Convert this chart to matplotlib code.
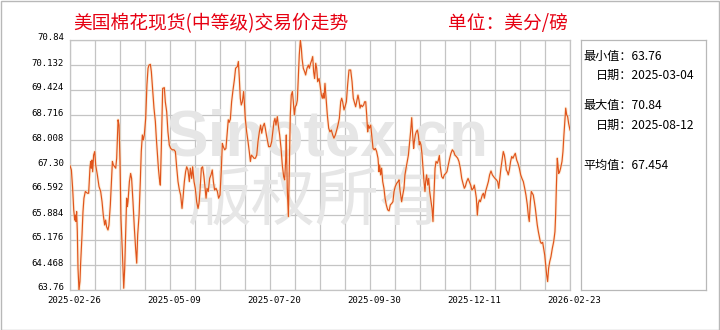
import numpy as np
import matplotlib
matplotlib.use('Agg')
import matplotlib.pyplot as plt
from matplotlib.patches import Rectangle
from matplotlib.transforms import ScaledTranslation

title = '美国棉花现货(中等级)交易价走势'
unit = '单位：美分/磅'

# days counted from 2025-02-26, price in US cents / lb
days = [
    0.0, 1.0, 1.9, 2.7, 3.4, 3.9, 4.3, 4.8, 5.3, 5.8,
    6.5, 7.2, 7.7, 8.7, 9.4, 10.1, 11.1, 12.6, 13.5, 14.5,
    15.0, 15.4, 15.9, 16.4, 17.1, 17.9, 18.6, 19.8, 21.0, 22.2,
    23.2, 24.1, 25.1, 25.8, 26.5, 27.5, 28.2, 29.2, 29.9, 30.7,
    31.4, 32.3, 33.1, 33.8, 34.8, 35.5, 36.2, 36.9, 37.9, 38.9,
    39.6, 40.3, 41.0, 41.5, 42.0, 43.0, 43.9, 44.6, 45.6, 46.6,
    47.5, 48.3, 49.0, 50.0, 50.9, 51.6, 52.4, 53.1, 53.8, 54.8,
    55.7, 56.5, 57.2, 58.2, 58.9, 59.8, 60.8, 61.8, 62.5, 63.2,
    64.0, 64.7, 65.4, 66.1, 67.1, 68.3, 69.0, 70.0, 70.9, 71.9,
    72.9, 74.1, 75.3, 76.3, 77.2, 78.2, 79.2, 80.1, 81.1, 81.8,
    82.8, 83.7, 84.5, 85.4, 86.4, 87.1, 88.1, 88.8, 89.8, 90.7,
    91.7, 92.7, 93.4, 94.1, 95.1, 96.0, 97.0, 98.0, 98.5, 99.2,
    100.1, 101.1, 102.1, 103.0, 103.8, 104.7, 105.7, 106.7, 107.6, 108.6,
    109.6, 110.3, 111.0, 112.0, 112.9, 113.9, 114.6, 115.3, 116.1, 117.0,
    118.0, 119.0, 119.9, 121.2, 121.9, 122.6, 123.3, 124.0, 124.8, 125.7,
    126.2, 126.9, 127.9, 128.9, 129.8, 130.6, 131.3, 132.3, 133.2, 134.2,
    135.2, 136.1, 137.1, 138.0, 138.8, 139.7, 140.7, 141.4, 142.2, 143.1,
    143.8, 145.0, 146.0, 147.0, 147.7, 148.4, 149.1, 150.1, 150.8, 151.8,
    152.8, 153.7, 154.7, 155.4, 156.1, 156.6, 157.3, 158.1, 158.8, 159.5,
    160.2, 161.0, 161.7, 162.4, 163.1, 163.9, 164.6, 165.3, 166.0, 166.8,
    167.5, 168.0, 168.9, 169.9, 170.6, 171.6, 172.6, 173.3, 174.2, 175.0,
    175.7, 176.4, 177.1, 177.9, 178.6, 179.3, 180.3, 181.0, 182.0, 182.7,
    183.4, 183.9, 184.6, 185.6, 186.3, 187.3, 188.2, 189.2, 190.2, 191.1,
    192.1, 193.1, 194.0, 195.0, 196.0, 196.7, 197.4, 198.4, 199.1, 200.1,
    201.0, 202.0, 203.2, 204.2, 205.1, 206.1, 206.8, 207.5, 208.5, 209.2,
    210.0, 210.7, 211.6, 212.6, 213.3, 214.1, 214.8, 215.5, 216.0, 216.7,
    217.7, 218.4, 219.4, 220.3, 221.1, 222.0, 223.0, 223.7, 224.2, 224.9,
    225.6, 226.4, 227.3, 228.1, 229.0, 230.0, 231.0, 231.9, 232.9, 233.8,
    234.6, 235.5, 236.5, 237.5, 238.2, 238.9, 240.1, 240.9, 241.8, 242.5,
    243.3, 244.2, 245.0, 245.7, 246.6, 247.4, 248.1, 248.8, 249.3, 250.0,
    250.7, 251.5, 252.2, 252.9, 253.4, 254.1, 254.8, 255.6, 256.3, 257.0,
    257.5, 258.2, 259.0, 259.7, 260.4, 261.4, 262.1, 262.8, 263.5, 264.3,
    265.0, 266.0, 266.7, 267.4, 268.1, 269.1, 270.1, 271.0, 272.0, 272.9,
    273.9, 274.9, 275.8, 276.8, 277.8, 278.7, 279.7, 280.7, 281.6, 282.6,
    283.6, 284.5, 285.5, 286.2, 287.2, 288.2, 289.1, 290.1, 291.0, 292.0,
    292.7, 293.5, 294.2, 294.9, 295.6, 296.4, 297.1, 297.8, 298.5, 299.3,
    300.0, 300.9, 301.9, 302.9, 303.8, 304.8, 305.8, 306.7, 307.7, 308.7,
    309.6, 310.4, 311.1, 312.0, 313.0, 313.7, 314.5, 315.2, 315.9, 316.6,
    317.3, 318.1, 319.0, 319.8, 320.7, 321.7, 322.4, 323.4, 324.3, 325.3,
    326.3, 327.2, 328.2, 329.2, 330.1, 331.1, 331.8, 332.5, 333.3, 334.0,
    334.7, 335.4, 336.2, 336.9, 337.6, 338.3, 339.1, 339.8, 340.5, 341.2,
    342.2, 342.9, 343.7, 344.4, 345.1, 345.8, 346.5, 347.3, 348.2, 349.2,
    350.2, 351.1, 351.6, 352.1, 352.8, 353.3, 353.8, 354.5, 355.2, 356.2,
    356.9, 357.6, 358.4, 358.9, 359.6, 360.3, 361.0, 362.0,
]
prices = [
    67.28, 67.16, 66.64, 66.03, 65.74, 65.88, 65.70, 65.98, 65.41, 64.37,
    63.76, 64.00, 64.52, 65.32, 65.98, 66.36, 66.55, 66.50, 66.50, 67.25,
    67.40, 67.21, 67.44, 67.11, 67.58, 67.68, 67.30, 67.02, 66.69, 66.55,
    66.26, 65.88, 65.60, 65.74, 65.55, 65.46, 65.60, 66.17, 66.73, 67.40,
    67.30, 67.25, 67.21, 67.49, 68.58, 68.43, 67.40, 65.79, 64.85, 63.81,
    64.37, 65.32, 66.36, 66.12, 66.26, 66.83, 67.06, 66.92, 66.26, 65.51,
    64.94, 64.52, 65.32, 65.88, 66.83, 67.68, 68.15, 68.01, 68.15, 68.62,
    69.57, 70.04, 70.13, 70.15, 69.94, 69.47, 68.91, 68.53, 68.06, 67.68,
    67.21, 66.92, 66.73, 67.77, 69.47, 69.49, 69.09, 68.81, 68.24, 67.87,
    67.77, 67.73, 67.73, 67.68, 67.25, 66.83, 66.59, 66.45, 66.07, 66.36,
    66.83, 67.11, 67.25, 67.16, 66.83, 67.21, 66.92, 67.25, 66.83, 66.64,
    66.26, 66.07, 66.21, 66.55, 67.21, 67.25, 66.97, 66.55, 66.36, 66.64,
    66.55, 66.92, 67.02, 67.16, 66.83, 66.59, 66.64, 66.55, 66.36, 66.45,
    67.21, 67.91, 67.82, 67.73, 67.77, 68.24, 68.58, 68.51, 68.60, 69.09,
    69.42, 69.71, 70.04, 70.09, 70.23, 69.75, 69.19, 69.00, 69.09, 69.38,
    69.09, 68.62, 68.24, 67.96, 67.68, 67.40, 67.58, 67.54, 67.49, 67.49,
    67.58, 67.96, 68.24, 68.43, 68.20, 68.39, 68.48, 68.34, 68.15, 67.96,
    67.82, 67.82, 67.96, 68.29, 68.53, 68.62, 68.43, 68.67, 68.43, 68.15,
    67.77, 67.30, 66.97, 66.88, 67.40, 68.15, 66.64, 65.84, 67.30, 68.72,
    69.28, 69.38, 69.09, 68.72, 68.95, 69.00, 69.14, 69.75, 70.42, 70.84,
    70.60, 70.32, 70.04, 69.94, 69.85, 70.04, 70.13, 70.04, 70.18, 70.27,
    70.37, 69.94, 69.75, 70.18, 70.04, 69.66, 69.75, 69.57, 69.28, 69.19,
    69.33, 69.19, 69.61, 69.09, 68.72, 68.34, 68.24, 68.29, 68.15, 68.06,
    68.15, 68.29, 68.43, 68.62, 69.09, 69.19, 69.09, 68.86, 68.95, 69.09,
    69.57, 69.99, 69.99, 69.66, 69.19, 69.05, 68.95, 69.09, 69.28, 69.14,
    68.91, 69.00, 68.95, 69.00, 69.09, 69.09, 68.72, 68.24, 68.43, 68.34,
    68.43, 68.15, 67.77, 67.73, 67.77, 67.68, 67.49, 67.11, 67.30, 67.02,
    67.21, 66.83, 66.64, 66.36, 66.17, 66.03, 66.00, 66.17, 66.21, 66.26,
    66.55, 66.69, 66.78, 66.83, 66.88, 66.59, 66.26, 66.45, 66.64, 67.02,
    67.21, 67.40, 67.58, 67.87, 68.24, 68.64, 68.15, 67.77, 67.96, 68.15,
    68.24, 68.29, 68.15, 67.87, 67.96, 67.87, 67.63, 67.21, 66.83, 66.55,
    66.83, 67.02, 66.73, 66.92, 66.55, 66.26, 66.07, 65.70, 66.45, 67.21,
    67.40, 67.35, 67.44, 67.57, 67.25, 66.97, 66.92, 67.02, 67.06, 67.11,
    67.30, 67.49, 67.63, 67.73, 67.68, 67.58, 67.54, 67.49, 67.40, 67.21,
    66.92, 66.78, 66.64, 66.69, 66.83, 66.92, 66.83, 66.73, 66.59, 66.64,
    66.73, 66.55, 66.36, 65.88, 66.21, 66.31, 66.26, 66.36, 66.45, 66.50,
    66.36, 66.55, 66.69, 66.83, 67.02, 67.13, 67.02, 66.97, 66.92, 66.88,
    66.83, 66.64, 66.88, 67.21, 67.49, 67.68, 67.58, 67.40, 67.16, 67.11,
    67.02, 67.16, 67.40, 67.54, 67.49, 67.58, 67.63, 67.44, 67.35, 67.21,
    67.02, 66.92, 66.83, 66.64, 66.45, 66.17, 65.88, 65.70, 66.26, 66.55,
    66.50, 66.45, 66.26, 66.07, 65.84, 65.60, 65.41, 65.27, 65.13, 65.08,
    65.11, 64.94, 64.75, 64.47, 64.19, 64.00, 64.37, 64.56, 64.70, 64.94,
    65.13, 65.41, 65.88, 66.64, 67.49, 67.30, 67.06, 67.11, 67.21, 67.40,
    67.68, 68.15, 68.62, 68.91, 68.72, 68.67, 68.48, 68.29,
]

y_ticks = [63.76, 64.468, 65.176, 65.884, 66.592, 67.30, 68.008, 68.716, 69.424, 70.132, 70.84]
y_labels = ['63.76', '64.468', '65.176', '65.884', '66.592', '67.30',
            '68.008', '68.716', '69.424', '70.132', '70.84']
x_labels = ['2025-02-26', '2025-05-09', '2025-07-20', '2025-09-30', '2025-12-11', '2026-02-23']
n_days = 362

min_val, min_date = '63.76', '2025-03-04'
max_val, max_date = '70.84', '2025-08-12'
avg_val = '67.454'

cjk = ['Noto Sans CJK SC', 'DejaVu Sans']
red = '#e60012'
line_col = '#e0541c'
grid_col = '#c4c4c4'

fig = plt.figure(figsize=(7.2, 3.3), dpi=100)
ax = fig.add_axes([70/720, 40/330, 500/720, 250/330])

# glow + line
ax.plot(days, prices, color='#fbdcb4', lw=2.2, alpha=0.5, zorder=3)
ax.plot(days, prices, color=line_col, lw=0.85, zorder=4)

ax.set_xlim(0, n_days)
ax.set_ylim(y_ticks[0], y_ticks[-1])
ax.set_yticks(y_ticks)
ax.set_yticklabels(y_labels)
grid_x = np.linspace(0, n_days, 21)
ax.set_xticks(grid_x)
ax.set_xticklabels([x_labels[i // 4] if i % 4 == 0 else '' for i in range(21)])

ax.grid(True, color=grid_col, lw=0.9)
ax.set_axisbelow(True)
ax.tick_params(length=0, labelsize=6.5, pad=4.3, colors='black')
for s in ax.spines.values():
    s.set_color(grid_col)
    s.set_linewidth(0.9)

for lab in ax.get_xticklabels():
    lab.set_fontfamily('DejaVu Sans Mono')
    lab.set_transform(lab.get_transform() + ScaledTranslation(0.04, 0, fig.dpi_scale_trans))
for lab in ax.get_yticklabels():
    lab.set_fontfamily('DejaVu Sans Mono')
    lab.set_transform(lab.get_transform() + ScaledTranslation(0, 0.03, fig.dpi_scale_trans))

# watermark
ax.text(0.514, 0.54, 'Sinotex.cn', transform=ax.transAxes, ha='center', va='baseline',
        fontsize=46, fontweight='bold', family='Liberation Sans', color='#e6e6e6', zorder=2)
ax.text(0.49, 0.352, '版权所有', transform=ax.transAxes, ha='center', va='center',
        fontsize=46, family=cjk, color='#e6e6e6', zorder=2)

# titles
fig.text(73/720, 1 - 24/330, title, ha='left', va='center', fontsize=13.5, family=cjk, color=red)
fig.text(448/720, 1 - 24/330, unit, ha='left', va='center', fontsize=13.5, family=cjk, color=red)

# stats panel
pan = fig.add_axes([581/720, 40/330, 125/720, 250/330])
pan.set_xticks([])
pan.set_yticks([])
for s in pan.spines.values():
    s.set_color('#b8b8b8')
    s.set_linewidth(0.9)
kw = dict(transform=pan.transAxes, ha='left', va='center', fontsize=8.7, family=cjk, color='black')
pan.text(0.016, 0.933, '最小值：' + min_val, **kw)
pan.text(0.12, 0.857, '日期：' + min_date, **kw)
pan.text(0.016, 0.737, '最大值：' + max_val, **kw)
pan.text(0.12, 0.660, '日期：' + max_date, **kw)
pan.text(0.016, 0.497, '平均值：' + avg_val, **kw)

fig.add_artist(Rectangle((0.5/720, 0.5/330), 718.5/720, 328.5/330, transform=fig.transFigure,
                         fill=False, edgecolor='#b8b8b8', lw=1))

fig.savefig('out.png', dpi=100)
